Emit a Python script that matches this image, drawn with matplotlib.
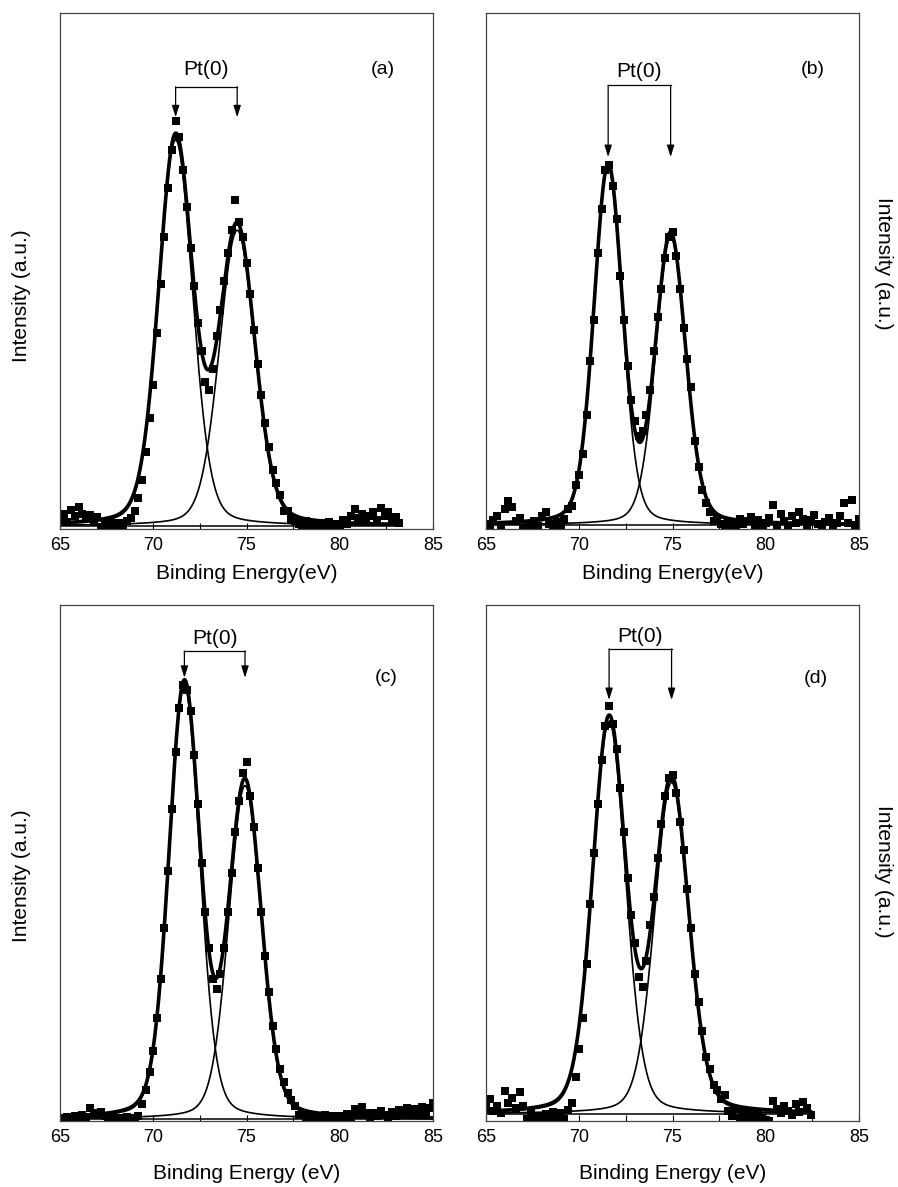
import numpy as np
import matplotlib.pyplot as plt
from matplotlib.ticker import MultipleLocator

plt.rcParams['font.family'] = ['Liberation Sans', 'DejaVu Sans']

# energy grid of the scans (eV)
e_start = 65.0
e_step = 0.2

# measured Pt 4f intensity (a.u.), one list per sample
int_a = [2.0, 3.0, 1.4, 3.6, 2.6, 4.2, 3.0, 2.2, 2.8, 1.3,
         2.4, 0.4, 0.9, 0.1, 1.1, 0.5, 1.2, 0.8, 1.5, 2.2,
         3.4, 6.0, 9.5, 15.0, 21.5, 28.0, 38.0, 47.5, 56.5, 66.0,
         73.5, 79.0, 76.0, 69.5, 62.5, 54.5, 47.0, 40.0, 34.5, 28.5,
         27.0, 31.0, 37.5, 42.5, 48.0, 53.5, 58.0, 63.7, 59.5, 56.5,
         51.5, 45.5, 38.5, 32.0, 26.0, 20.5, 15.8, 11.5, 9.0, 6.5,
         3.5, 3.5, 2.0, 1.5, 1.0, 0.8, 1.5, 0.4, 0.9, 0.2,
         1.2, 0.5, 1.4, 0.3, 1.0, 0.6, 1.8, 1.0, 2.5, 3.8,
         2.2, 3.0, 1.5, 2.5, 3.2, 1.8, 4.0, 2.6, 3.2, 1.8,
         2.4, 1.2]
int_b = [1.0, 0.3, 1.8, 2.6, 0.8, 3.8, 5.4, 4.2, 1.5, 2.2,
         0.2, 1.0, 0.4, 1.6, 0.6, 2.5, 3.2, 1.0, 0.5, 1.4,
         0.8, 2.0, 3.8, 4.5, 8.5, 10.5, 14.5, 22.0, 32.5, 40.5,
         53.5, 62.0, 69.5, 70.5, 66.5, 60.0, 49.0, 40.5, 31.5, 25.0,
         21.0, 18.0, 19.0, 22.0, 27.0, 34.5, 41.0, 46.5, 52.5, 56.5,
         57.5, 53.0, 46.5, 39.0, 33.0, 27.5, 17.0, 12.0, 7.5, 5.0,
         3.2, 1.5, 2.2, 1.0, 0.4, 1.6, 0.8, 0.2, 2.0, 0.9,
         1.5, 2.4, 0.3, 1.8, 0.6, 1.2, 2.2, 4.6, 0.8, 3.0,
         1.6, 0.4, 2.6, 1.2, 3.2, 2.0, 0.6, 1.8, 2.8, 1.0,
         0.2, 1.4, 2.2, 0.6, 1.2, 2.6, 5.0, 1.2, 5.6, 0.8,
         2.0]
int_c = [0.6, 0.2, 0.8, 0.4, 1.0, 0.5, 1.2, 0.8, 2.6, 1.6,
         1.2, 1.8, 1.0, 0.2, 0.6, 0.1, 0.5, 0.3, 0.8, 0.2,
         0.6, 1.0, 3.2, 6.0, 9.5, 13.5, 20.0, 27.5, 37.5, 48.5,
         60.5, 71.5, 80.0, 84.5, 83.5, 79.5, 71.0, 61.5, 50.0, 40.5,
         33.5, 27.5, 25.5, 28.5, 33.5, 40.5, 48.0, 56.0, 62.0, 67.4,
         69.6, 63.0, 57.0, 49.0, 40.5, 32.0, 25.0, 18.5, 14.0, 10.0,
         7.5, 5.5, 4.0, 3.0, 1.2, 1.6, 0.5, 1.0, 0.2, 0.8,
         0.4, 1.2, 0.5, 0.9, 0.3, 1.0, 0.6, 1.4, 0.8, 2.4,
         1.2, 2.8, 1.5, 0.6, 1.6, 0.9, 2.0, 1.2, 0.5, 1.8,
         1.0, 2.2, 1.4, 2.6, 1.2, 2.4, 1.6, 2.8, 1.8, 2.6,
         3.4]
int_d = [3.0, 4.2, 2.0, 3.0, 1.5, 5.8, 3.5, 4.5, 2.6, 5.6,
         3.0, 0.4, 1.5, 0.2, 1.0, 0.3, 1.4, 0.6, 1.8, 0.8,
         1.5, 0.4, 2.2, 3.5, 8.5, 14.0, 20.0, 30.5, 42.0, 52.0,
         61.5, 70.0, 76.5, 80.5, 77.0, 72.0, 64.5, 56.0, 47.0, 40.0,
         34.5, 28.0, 26.0, 31.0, 38.0, 43.5, 51.0, 57.5, 63.0, 66.5,
         67.0, 63.5, 58.0, 52.5, 45.0, 37.5, 28.5, 23.0, 17.5, 12.5,
         10.0, 7.0, 6.0, 4.2, 5.0, 2.0, 1.0, 2.4, 0.5, 1.6,
         0.8, 2.0, 0.3, 1.2, 0.6, 0.2, 0.0, 3.8, 2.4, 1.5,
         3.0, 2.0, 1.2, 3.2, 1.8, 3.6, 2.5, 1.2]

# fitted Pt(0) 4f7/2 and 4f5/2 components: centre (eV), height, half width (eV)
centres_a, heights_a, widths_a, base_a = [71.2, 74.5], [74.8, 57.3], [1.08, 1.13], 0.6
centres_b, heights_b, widths_b, base_b = [71.55, 74.9], [69.2, 55.8], [0.90, 0.95], 0.8
centres_c, heights_c, widths_c, base_c = [71.67, 74.92], [83.9, 64.6], [0.98, 1.03], 0.4
centres_d, heights_d, widths_d, base_d = [71.6, 74.95], [76.0, 64.2], [1.05, 1.08], 1.4
gl_mix = 0.2

panel_tags = ['(a)', '(b)', '(c)', '(d)']
x_titles = ['Binding Energy(eV)', 'Binding Energy(eV)',
            'Binding Energy (eV)', 'Binding Energy (eV)']
y_title = 'Intensity (a.u.)'


def gl_peak(x, c, h, w):
    u = (x - c) / w
    return h * ((1 - gl_mix) * np.exp(-np.log(2) * u ** 2) + gl_mix / (1 + u ** 2))


W, H = 898, 1187
fig = plt.figure(figsize=(W / 100, H / 100), dpi=100)

# pixel layout: left, top of each frame; label/bracket positions in axes fraction
frames = [(60, 13), (486, 13), (60, 605), (486, 605)]
fw, fh = 373, 516
bracket_y = [(0.857, 0.798, 0.89), (0.860, 0.721, 0.886),
             (0.911, 0.859, 0.936), (0.915, 0.816, 0.938)]
tag_pos = [(0.866, 0.89), (0.877, 0.89), (0.874, 0.86), (0.885, 0.857)]
label_pads = [7, 7, 13, 13]
ylab_pos = [(22, 296, 90), (883, 263, 270), (22, 876, 90), (883, 871, 270)]

panels = [
    (int_a, centres_a, heights_a, widths_a, base_a),
    (int_b, centres_b, heights_b, widths_b, base_b),
    (int_c, centres_c, heights_c, widths_c, base_c),
    (int_d, centres_d, heights_d, widths_d, base_d),
]

for i, (inten, cens, hts, wids, base) in enumerate(panels):
    left, top = frames[i]
    ax = fig.add_axes([left / W, 1 - (top + fh) / H, fw / W, fh / H])

    energy = e_start + e_step * np.arange(len(inten))
    xf = np.linspace(energy[0], energy[-1], 600)
    comps = [base + gl_peak(xf, c, h, w) for c, h, w in zip(cens, hts, wids)]
    envelope = base + sum(gl_peak(xf, c, h, w) for c, h, w in zip(cens, hts, wids))

    ax.plot(energy, inten, ls='none', marker='s', ms=6, color='black', mew=0)
    ax.plot(xf, np.full_like(xf, base), color='black', lw=1.1)
    for comp in comps:
        ax.plot(xf, comp, color='black', lw=1.2)
    ax.plot(xf, envelope, color='black', lw=2.6)

    # Pt(0) doublet bracket
    trans = ax.get_xaxis_transform()
    y_top, y_tip, y_txt = bracket_y[i]
    ax.plot([cens[0], cens[1]], [y_top, y_top], color='black', lw=0.9,
            transform=trans, clip_on=False)
    for c in cens:
        ax.annotate('', xy=(c, y_tip), xytext=(c, y_top), xycoords=trans,
                    textcoords=trans,
                    arrowprops=dict(arrowstyle='-|>,head_length=0.7,head_width=0.22',
                                    color='black', lw=0.9, shrinkA=0, shrinkB=0))
    ax.text((cens[0] + cens[1]) / 2, y_txt, 'Pt(0)', transform=trans,
            ha='center', va='center', fontsize=15)
    ax.text(tag_pos[i][0], tag_pos[i][1], panel_tags[i], transform=ax.transAxes,
            ha='center', va='center', fontsize=14)

    ax.set_xlim(65, 85)
    ax.set_ylim(0, 100)
    ax.set_yticks([])
    ax.xaxis.set_major_locator(MultipleLocator(5))
    ax.xaxis.set_minor_locator(MultipleLocator(2.5))
    ax.tick_params(axis='x', which='both', direction='in', length=4, width=0.8,
                   top=False, labelsize=13, pad=6)
    for sp in ax.spines.values():
        sp.set_color('#444444')
        sp.set_linewidth(0.9)
    ax.set_xlabel(x_titles[i], fontsize=15, labelpad=label_pads[i])

    lx, ly, rot = ylab_pos[i]
    fig.text(lx / W, 1 - ly / H, y_title, rotation=rot, ha='center', va='center',
             fontsize=15)

fig.savefig('out.png', dpi=100)
